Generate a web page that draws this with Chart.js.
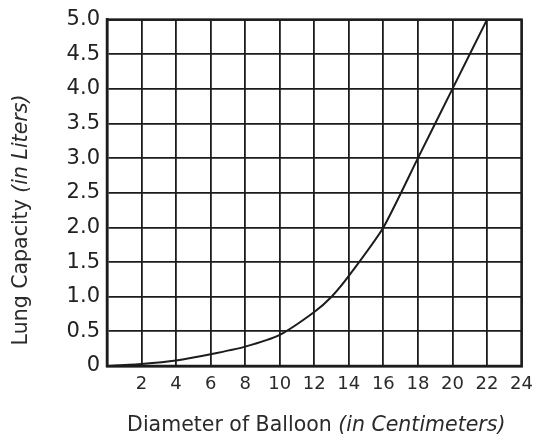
<!DOCTYPE html>
<html>
<head>
<meta charset="utf-8">
<script src="https://cdn.jsdelivr.net/npm/chart.js@4/dist/chart.umd.min.js"></script>
<style>
  html, body { margin: 0; padding: 0; background: #fff; }
</style>
</head>
<body>
<canvas id="lungChart" width="541" height="438"></canvas>
<script>
// balloon diameter (cm) and lung capacity (L)
var diameters = [0, 2, 4, 6, 8, 10, 12, 13, 14, 16, 18, 20, 22];
var capacities = [0, 0.03, 0.08, 0.17, 0.28, 0.45, 0.78, 1.0, 1.3, 2.0, 3.0, 4.0, 5.0];
var xTicks = [2, 4, 6, 8, 10, 12, 14, 16, 18, 20, 22, 24];
var yTicks = [0, 0.5, 1.0, 1.5, 2.0, 2.5, 3.0, 3.5, 4.0, 4.5, 5.0];

var ink = '#1c1c1c';
var font = 'DejaVu Sans';

// axis titles have a plain part and an italic part, so draw them by hand
function drawParts(c, parts, x, y) {
    parts.forEach(function(p) {
        c.font = p[1] + ' 20.5px ' + font;
        c.fillText(p[0], x, y);
        x += c.measureText(p[0]).width;
    });
}
function partsWidth(c, parts) {
    var w = 0;
    parts.forEach(function(p) {
        c.font = p[1] + ' 20.5px ' + font;
        w += c.measureText(p[0]).width;
    });
    return w;
}

var axisTitles = {
    id: 'axisTitles',
    afterDraw: function(chart) {
        var c = chart.ctx;
        var area = chart.chartArea;
        c.save();
        c.fillStyle = '#2a2a2a';
        c.textBaseline = 'middle';

        var xParts = [['Diameter of Balloon ', 'normal'], ['(in Centimeters)', 'italic']];
        drawParts(c, xParts, (area.left + area.right) / 2 - partsWidth(c, xParts) / 2 + 2, 426);

        var yParts = [['Lung Capacity ', 'normal'], ['(in Liters)', 'italic']];
        c.translate(22, 220);
        c.rotate(-Math.PI / 2);
        drawParts(c, yParts, -partsWidth(c, yParts) / 2, 0);
        c.restore();
    }
};

var ctx = document.getElementById('lungChart').getContext('2d');
var lungChart = new Chart(ctx, {
    type: 'line',
    data: {
        datasets: [{
            data: diameters.map(function(d, i) { return { x: d, y: capacities[i] }; }),
            borderColor: ink,
            borderWidth: 2,
            pointRadius: 0,
            tension: 0.2,
            fill: false
        }]
    },
    options: {
        responsive: false,
        animation: false,
        plugins: {
            legend: { display: false },
            tooltip: { enabled: false }
        },
        layout: { padding: { left: 0, right: 16, top: 18, bottom: 0 } },
        scales: {
            x: {
                type: 'linear',
                min: 0,
                max: 24,
                afterBuildTicks: function(scale) {
                    scale.ticks = [{ value: 0 }].concat(xTicks.map(function(v) { return { value: v }; }));
                },
                afterFit: function(scale) { scale.height = 72; },
                ticks: {
                    color: '#2a2a2a',
                    font: { family: font, size: 18 },
                    padding: 8,
                    maxRotation: 0,
                    autoSkip: false,
                    callback: function(v) { return v === 0 ? '' : v; }
                },
                grid: { color: ink, lineWidth: 1.8, drawTicks: false },
                border: { color: ink, width: 2.5 }
            },
            y: {
                min: 0,
                max: 5,
                afterBuildTicks: function(scale) {
                    scale.ticks = yTicks.map(function(v) { return { value: v }; });
                },
                afterFit: function(scale) { scale.width = 107; },
                ticks: {
                    color: '#222',
                    font: { family: font, size: 21 },
                    padding: 7,
                    autoSkip: false,
                    callback: function(v) { return v === 0 ? '0' : v.toFixed(1); }
                },
                grid: { color: ink, lineWidth: 1.8, drawTicks: false },
                border: { color: ink, width: 2.5 }
            }
        }
    },
    plugins: [axisTitles, {
        // closed frame around the plot
        id: 'frame',
        afterDraw: function(chart) {
            var a = chart.chartArea;
            chart.ctx.save();
            chart.ctx.strokeStyle = ink;
            chart.ctx.lineWidth = 2.5;
            chart.ctx.strokeRect(a.left, a.top, a.right - a.left, a.bottom - a.top);
            chart.ctx.restore();
        }
    }]
});
</script>
</body>
</html>
